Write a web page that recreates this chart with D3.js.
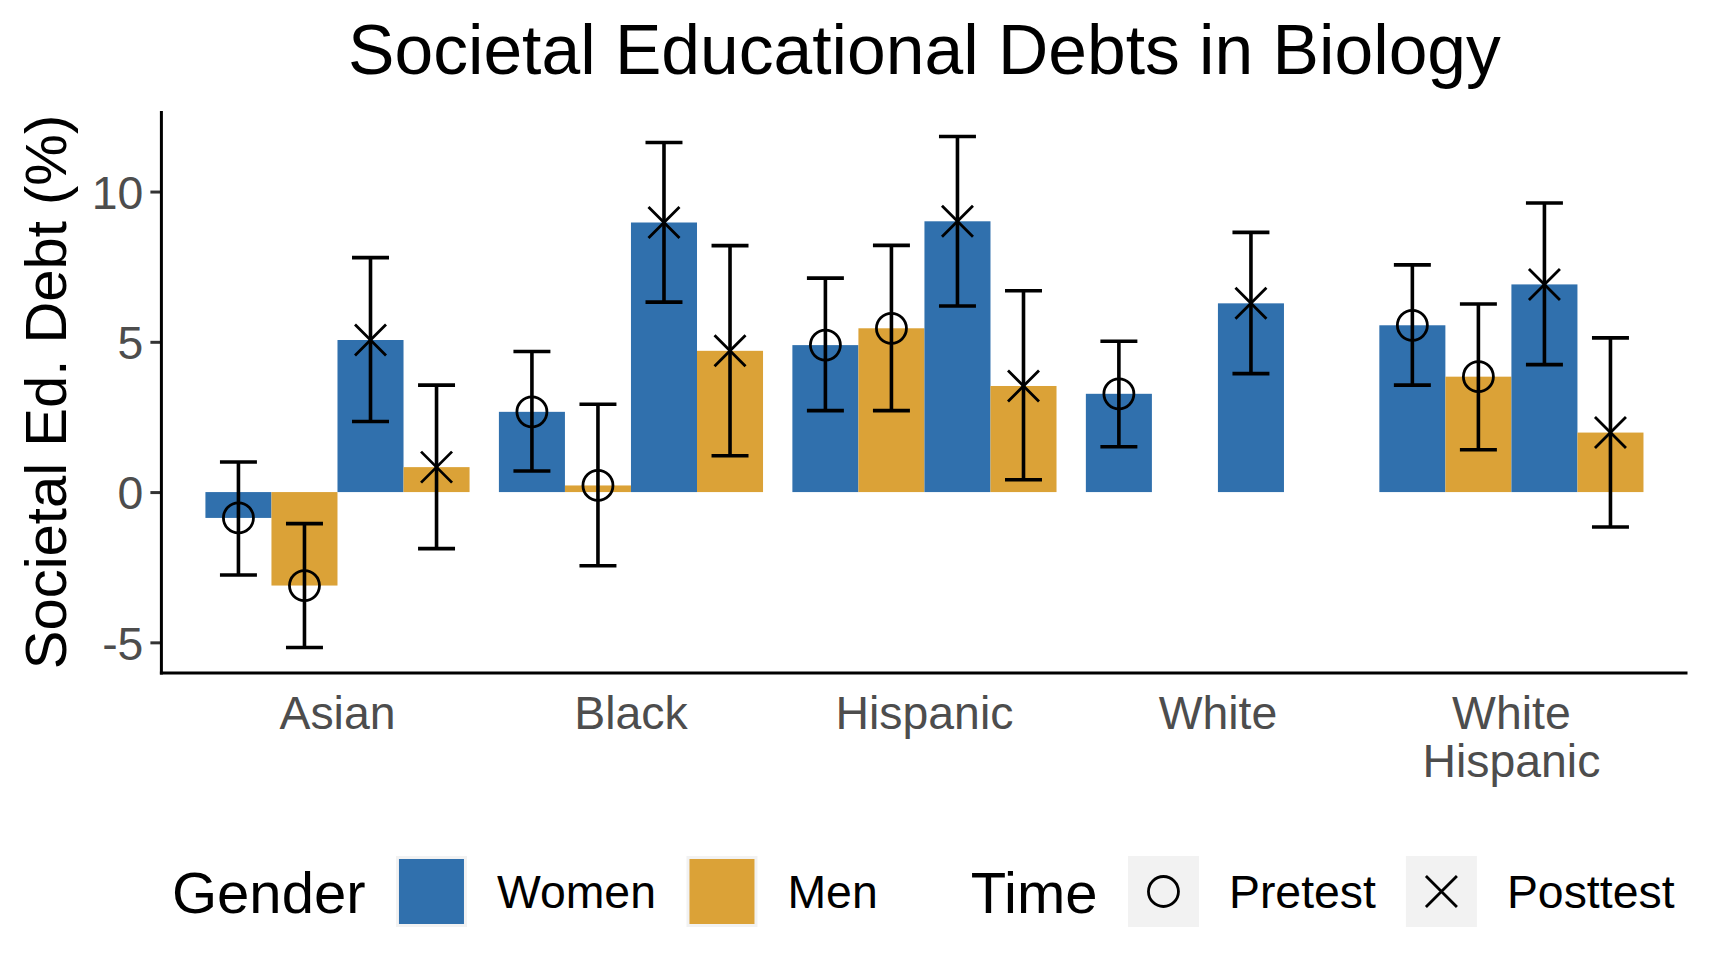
<!DOCTYPE html>
<html>
<head>
<meta charset="utf-8">
<script src="https://cdn.jsdelivr.net/npm/d3@7"></script>
<style>
  html, body { margin: 0; padding: 0; background: #ffffff; }
  svg { display: block; }
  text { font-family: "Liberation Sans", Arial, Helvetica, sans-serif; }
</style>
</head>
<body>
<svg id="chart" width="1710" height="974"></svg>
<script>
// ---------------- data ----------------
const categories = ["Asian", "Black", "Hispanic", "White", "White\nHispanic"];
const seriesKeys = ["Women-Pretest", "Men-Pretest", "Women-Posttest", "Men-Posttest"];
const genders = ["Women", "Men"];
const times = ["Pretest", "Posttest"];

const womenPre     = [-0.86, 2.67, 4.89, 3.27, 5.55];
const womenPreLow  = [-2.76, 0.70, 2.71, 1.51, 3.56];
const womenPreHigh = [ 1.00, 4.68, 7.12, 5.02, 7.56];

const menPre       = [-3.11, 0.22, 5.45, null, 3.84];
const menPreLow    = [-5.17, -2.45, 2.71, null, 1.41];
const menPreHigh   = [-1.05, 2.92, 8.21, null, 6.26];

const womenPost     = [5.06, 8.97, 9.01, 6.28, 6.91];
const womenPostLow  = [2.35, 6.32, 6.19, 3.94, 4.24];
const womenPostHigh = [7.80, 11.63, 11.83, 8.64, 9.62];

const menPost       = [0.83, 4.70, 3.53, null, 1.98];
const menPostLow    = [-1.88, 1.21, 0.41, null, -1.16];
const menPostHigh   = [3.56, 8.20, 6.70, null, 5.13];

const yTicks = [-5, 0, 5, 10];
const yTickLabels = ["-5", "0", "5", "10"];

const titleText = "Societal Educational Debts in Biology";
const yTitleText = "Societal Ed. Debt (%)";

// ---------------- build rows ----------------
const seriesDefs = [
  {key: seriesKeys[0], gender: "Women", time: "Pretest",  v: womenPre,  lo: womenPreLow,  hi: womenPreHigh},
  {key: seriesKeys[1], gender: "Men",   time: "Pretest",  v: menPre,    lo: menPreLow,    hi: menPreHigh},
  {key: seriesKeys[2], gender: "Women", time: "Posttest", v: womenPost, lo: womenPostLow, hi: womenPostHigh},
  {key: seriesKeys[3], gender: "Men",   time: "Posttest", v: menPost,   lo: menPostLow,   hi: menPostHigh}
];
const rows = [];
seriesDefs.forEach(s => {
  categories.forEach((c, i) => {
    if (s.v[i] !== null) rows.push({cat: c, key: s.key, gender: s.gender, time: s.time, v: s.v[i], lo: s.lo[i], hi: s.hi[i]});
  });
});

// ---------------- layout ----------------
const svg = d3.select("#chart");
const FONT = "'Liberation Sans', Arial, Helvetica, sans-serif";
const panel = {left: 161.4, right: 1687.5, top: 111, bottom: 673};

const colour = d3.scaleOrdinal().domain(genders).range(["#3070AD", "#DBA237"]);

const x0 = d3.scaleBand().domain(categories)
  .range([panel.left, panel.right]).paddingInner(0.1).paddingOuter(0.15);
const x1 = d3.scaleBand().domain(seriesKeys).range([0, x0.bandwidth()]).padding(0);

const dMin = d3.min(rows, d => d.lo), dMax = d3.max(rows, d => d.hi);
const ex = (dMax - dMin) * 0.05;
const y = d3.scaleLinear().domain([dMin - ex, dMax + ex]).range([panel.bottom, panel.top]);

// bars
const g = svg.append("g");
g.selectAll("rect.bar").data(rows).join("rect")
  .attr("class", "bar")
  .attr("x", d => x0(d.cat) + x1(d.key))
  .attr("width", x1.bandwidth())
  .attr("y", d => y(Math.max(0, d.v)))
  .attr("height", d => Math.abs(y(d.v) - y(0)))
  .attr("fill", d => colour(d.gender));

// error bars
const capW = x1.bandwidth() * 0.56;
const EBW = 3.6;
const eb = g.selectAll("g.eb").data(rows).join("g").attr("class", "eb")
  .attr("transform", d => `translate(${x0(d.cat) + x1(d.key) + x1.bandwidth() / 2},0)`);
eb.append("line").attr("x1", 0).attr("x2", 0)
  .attr("y1", d => y(d.lo)).attr("y2", d => y(d.hi))
  .attr("stroke", "#000").attr("stroke-width", EBW);
eb.append("line").attr("x1", -capW / 2).attr("x2", capW / 2)
  .attr("y1", d => y(d.hi)).attr("y2", d => y(d.hi))
  .attr("stroke", "#000").attr("stroke-width", EBW);
eb.append("line").attr("x1", -capW / 2).attr("x2", capW / 2)
  .attr("y1", d => y(d.lo)).attr("y2", d => y(d.lo))
  .attr("stroke", "#000").attr("stroke-width", EBW);

// points
function drawShape(sel, time, cx, cy) {
  if (time === "Pretest") {
    sel.append("circle").attr("cx", cx).attr("cy", cy).attr("r", 15)
      .attr("fill", "none").attr("stroke", "#000").attr("stroke-width", 2.8);
  } else {
    const h = 15.5;
    sel.append("path")
      .attr("d", `M${cx - h},${cy - h}L${cx + h},${cy + h}M${cx - h},${cy + h}L${cx + h},${cy - h}`)
      .attr("fill", "none").attr("stroke", "#000").attr("stroke-width", 2.8);
  }
}
eb.each(function(d) { drawShape(d3.select(this), d.time, 0, y(d.v)); });

// axes
const yAxis = d3.axisLeft(y).tickValues(yTicks).tickSize(11).tickPadding(7)
  .tickFormat((d, i) => yTickLabels[i]);
const yg = svg.append("g").attr("transform", `translate(${panel.left},0)`).call(yAxis);
yg.select(".domain").remove();
yg.selectAll(".tick line").attr("stroke", "#333333").attr("stroke-width", 3);
yg.selectAll(".tick text").attr("fill", "#4D4D4D").style("font-size", "46.4px").style("font-family", FONT)
  .attr("dy", "0.36em");

const xAxis = d3.axisBottom(x0).tickSize(0).tickFormat("");
const xg = svg.append("g").attr("transform", `translate(0,${panel.bottom})`).call(xAxis);
xg.select(".domain").remove();
xg.selectAll(".tick").each(function(d) {
  const lines = d.split("\n");
  const t = d3.select(this).append("text")
    .attr("text-anchor", "middle").attr("fill", "#4D4D4D")
    .style("font-size", "46.4px").style("font-family", FONT);
  lines.forEach((ln, i) => {
    t.append("tspan").attr("x", 0).attr("y", 56 + i * 48).text(ln);
  });
});

// axis lines
svg.append("line").attr("x1", panel.left).attr("x2", panel.left)
  .attr("y1", panel.top).attr("y2", panel.bottom + 1.5)
  .attr("stroke", "#000").attr("stroke-width", 3);
svg.append("line").attr("x1", panel.left - 1.5).attr("x2", panel.right)
  .attr("y1", panel.bottom).attr("y2", panel.bottom)
  .attr("stroke", "#000").attr("stroke-width", 3);

// title
svg.append("text").attr("x", (panel.left + panel.right) / 2).attr("y", 74)
  .attr("text-anchor", "middle").style("font-size", "69.6px").style("font-family", FONT)
  .attr("fill", "#000").text(titleText);

// y axis title
svg.append("text")
  .attr("transform", `translate(66,${(panel.top + panel.bottom) / 2}) rotate(-90)`)
  .attr("text-anchor", "middle").style("font-size", "58px").style("font-family", FONT)
  .attr("fill", "#000").text(yTitleText);

// legend
const leg = svg.append("g");
const keyTop = 856, keySize = 71, keyMid = keyTop + keySize / 2;
let cx = 172;
function legTitle(txt) {
  const t = leg.append("text").attr("x", cx).attr("y", keyMid + 21.5)
    .style("font-size", "58px").style("font-family", FONT).attr("fill", "#000").text(txt);
  cx += t.node().getComputedTextLength() + 30.5;
}
function legLabel(txt) {
  const t = leg.append("text").attr("x", cx).attr("y", keyMid + 16.6)
    .style("font-size", "46.4px").style("font-family", FONT).attr("fill", "#000").text(txt);
  cx += t.node().getComputedTextLength();
}
legTitle("Gender");
genders.forEach((gd, i) => {
  leg.append("rect").attr("x", cx).attr("y", keyTop).attr("width", keySize).attr("height", keySize).attr("fill", "#F2F2F2");
  leg.append("rect").attr("x", cx + 3).attr("y", keyTop + 3).attr("width", keySize - 6).attr("height", keySize - 6).attr("fill", colour(gd));
  cx += keySize + 30;
  legLabel(gd);
  cx += (i < genders.length - 1) ? 30.5 : 93;
});
legTitle("Time");
times.forEach((tm, i) => {
  leg.append("rect").attr("x", cx).attr("y", keyTop).attr("width", keySize).attr("height", keySize).attr("fill", "#F2F2F2");
  drawShape(leg, tm, cx + keySize / 2, keyMid);
  cx += keySize + 30;
  legLabel(tm);
  cx += 30;
});
</script>
</body>
</html>
